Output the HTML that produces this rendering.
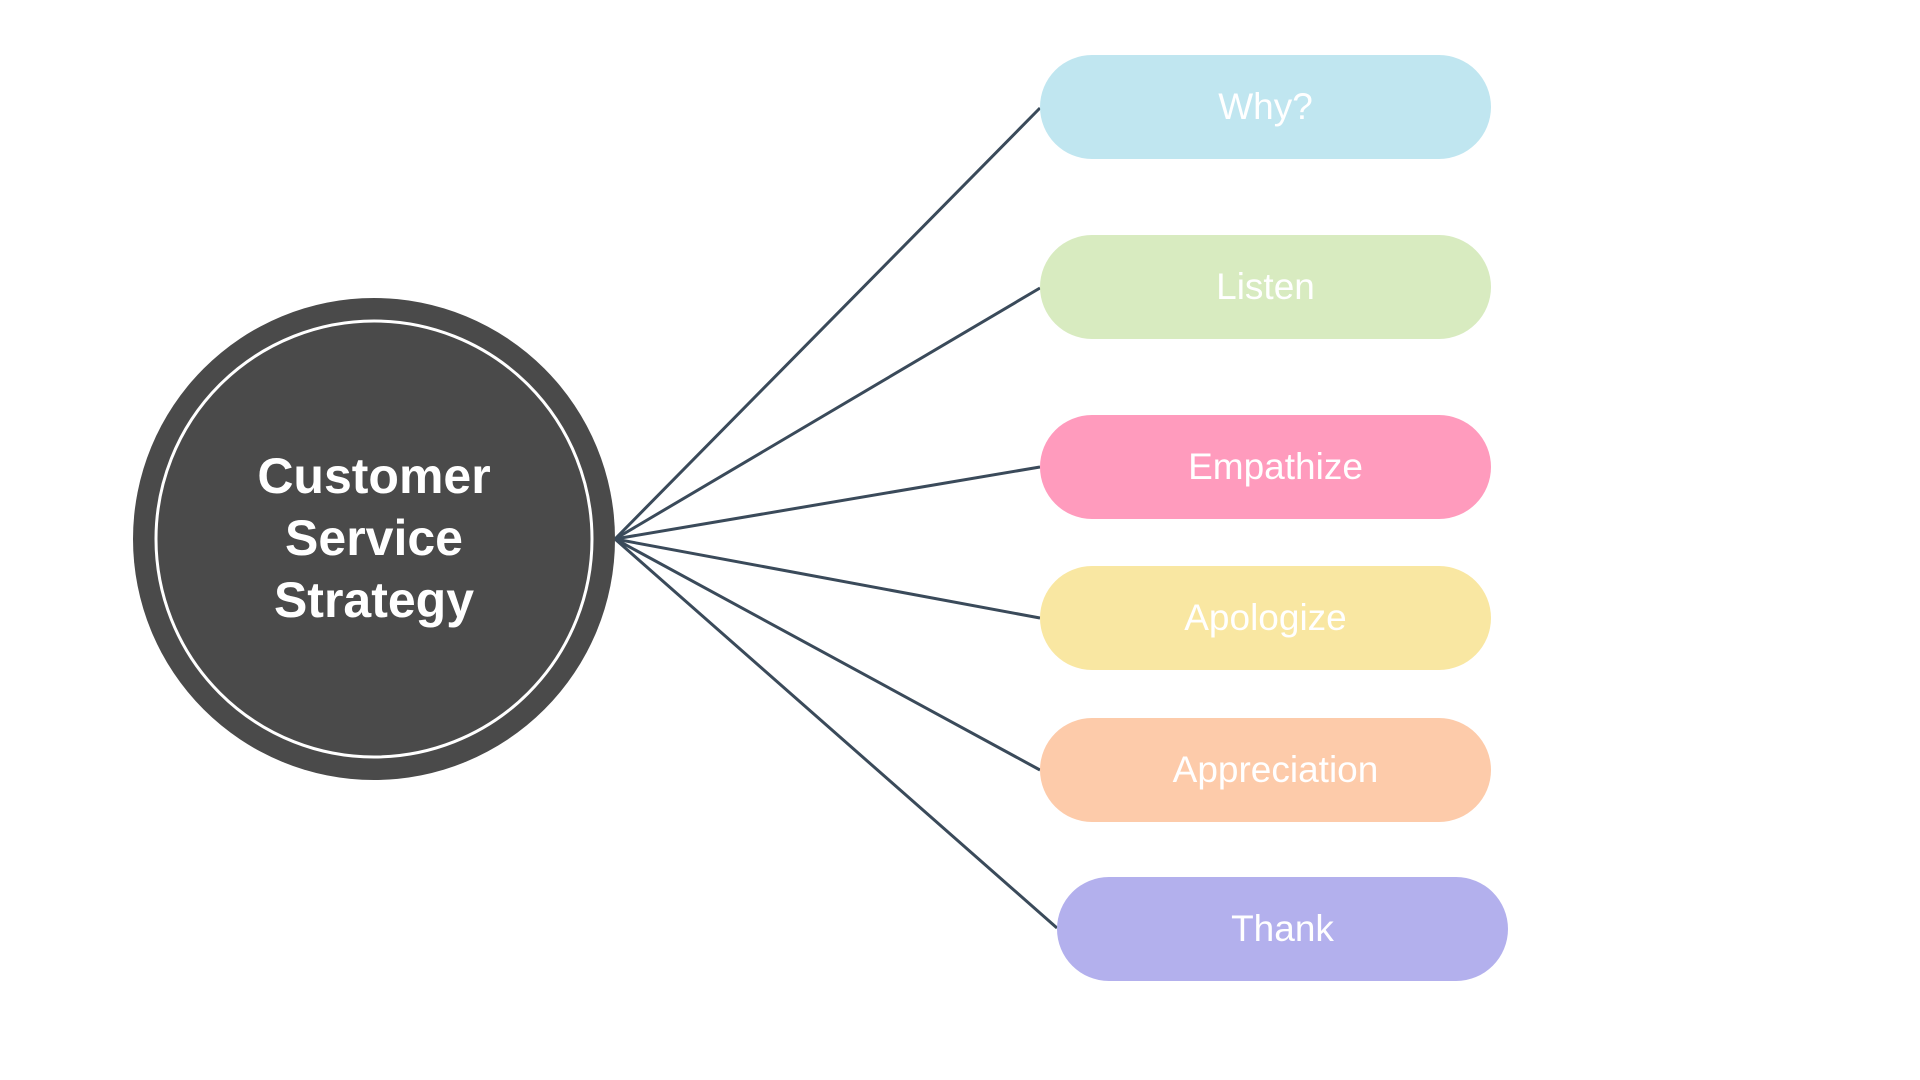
<!DOCTYPE html>
<html><head><meta charset="utf-8"><style>
html,body{margin:0;padding:0;background:#fff;}
body{width:1920px;height:1080px;position:relative;overflow:hidden;font-family:"Liberation Sans",sans-serif;}
.pill{position:absolute;width:451px;height:104px;border-radius:52px;color:#fff;font-size:37px;display:flex;align-items:center;justify-content:center;}
</style></head><body>
<svg width="1920" height="1080" style="position:absolute;left:0;top:0">
<g stroke="#3a4a5a" stroke-width="3" fill="none">
<line x1="615" y1="539" x2="1040" y2="108"/>
<line x1="615" y1="539" x2="1040" y2="288"/>
<line x1="615" y1="539" x2="1040" y2="467"/>
<line x1="615" y1="539" x2="1040" y2="618"/>
<line x1="615" y1="539" x2="1040" y2="770"/>
<line x1="615" y1="539" x2="1057" y2="928"/>
</g>
<circle cx="374" cy="539" r="241" fill="#4a4a4a"/>
<circle cx="374" cy="539" r="218" fill="#4a4a4a" stroke="#fff" stroke-width="3"/>
<text x="374" y="493" fill="#fff" font-family="Liberation Sans,sans-serif" font-weight="bold" font-size="50" text-anchor="middle">Customer</text>
<text x="374" y="555" fill="#fff" font-family="Liberation Sans,sans-serif" font-weight="bold" font-size="50" text-anchor="middle">Service</text>
<text x="374" y="617" fill="#fff" font-family="Liberation Sans,sans-serif" font-weight="bold" font-size="50" text-anchor="middle">Strategy</text>
</svg>
<div class="pill" style="left:1040px;top:55px;background:#c0e6f0">Why?</div>
<div class="pill" style="left:1040px;top:235px;background:#d8ebc0">Listen</div>
<div class="pill" style="left:1040px;top:415px;background:#ff9bbd;padding-left:20px;box-sizing:border-box">Empathize</div>
<div class="pill" style="left:1040px;top:566px;background:#f9e7a2">Apologize</div>
<div class="pill" style="left:1040px;top:718px;background:#fdcbaa;padding-left:20px;box-sizing:border-box">Appreciation</div>
<div class="pill" style="left:1057px;top:877px;background:#b3b0ed">Thank</div>
</body></html>
